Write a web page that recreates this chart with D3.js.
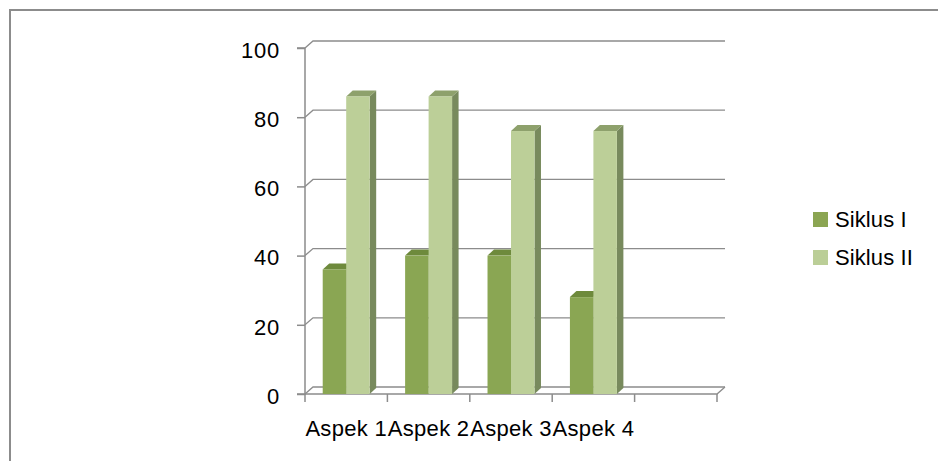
<!DOCTYPE html>
<html>
<head>
<meta charset="utf-8">
<script src="https://cdn.jsdelivr.net/npm/d3@7"></script>
<style>
  html, body { margin: 0; padding: 0; background: #fff; }
  svg { display: block; }
  text { font-family: "Liberation Sans", Arial, sans-serif; fill: #000; }
</style>
</head>
<body>
<svg id="chart" width="938" height="461"></svg>
<script>
// Chart data
const categories = ["Aspek 1", "Aspek 2", "Aspek 3", "Aspek 4"];
const seriesNames = ["Siklus I", "Siklus II"];
const siklus1 = [36, 40, 40, 28];
const siklus2 = [86, 86, 76, 76];
const yTicks = [0, 20, 40, 60, 80, 100];

const seriesValues = [siklus1, siklus2];
const faceColors = [
  { front: "#8aa653", top: "#6e8a3c", side: "#6a8038" },
  { front: "#bccf98", top: "#8ea16c", side: "#788a5d" }
];
const legendColors = ["#8ba552", "#bbce97"];

const svg = d3.select("#chart");

// Outer frame (extends past the page edge on the right and bottom)
svg.append("rect")
  .attr("x", 10).attr("y", 10)
  .attr("width", 1000).attr("height", 600)
  .attr("fill", "none")
  .attr("stroke", "#8c8c8c")
  .attr("stroke-width", 2);

// Plot geometry
const plotLeft = 305, plotRight = 717, plotBottom = 394, plotTop = 48;
const depthX = 8, depthY = 7;       // wall / floor depth
const barDX = 6.5, barDY = 6;       // bar depth

// One extra empty slot after the last category
const slots = [...categories, "\u0000empty"];
const x = d3.scaleBand().domain(slots).range([plotLeft, plotRight]).paddingInner(0).paddingOuter(0);
const y = d3.scaleLinear().domain([0, 100]).range([plotBottom, plotTop]);
const groupInner = 0.57; // fraction of a slot used by the bar pair
const barW = x.bandwidth() * groupInner / seriesNames.length;

const gridColor = "#8c8c8c";

// Back-wall gridlines with slanted left ends
const grid = svg.append("g");
yTicks.forEach(t => {
  const yy = y(t);
  grid.append("path")
    .attr("d", `M${plotLeft},${yy} L${plotLeft + depthX},${yy - depthY} L${plotRight + depthX},${yy - depthY}`)
    .attr("fill", "none")
    .attr("stroke", gridColor)
    .attr("stroke-width", 1.3);
});

// Floor front edge and right slant
svg.append("path")
  .attr("d", `M${plotLeft},${plotBottom} L${plotRight},${plotBottom} L${plotRight + depthX},${plotBottom - depthY}`)
  .attr("fill", "none").attr("stroke", gridColor).attr("stroke-width", 1.3);

// Value axis
const yAxis = d3.axisLeft(y).tickValues(yTicks).tickSize(8).tickPadding(17);
const yg = svg.append("g").attr("transform", `translate(${plotLeft},0)`).call(yAxis);
yg.select(".domain").attr("stroke", gridColor).attr("stroke-width", 1.5)
  .attr("d", `M-8,${plotTop}H0V${plotBottom}H-8`);
yg.selectAll(".tick line").attr("stroke", gridColor).attr("stroke-width", 1.5);
yg.selectAll(".tick text")
  .style("font-family", "'Liberation Sans', Arial, sans-serif")
  .attr("font-size", 22).attr("letter-spacing", 0.8).attr("fill", "#000")
  .attr("dy", "0.42em");

// Category axis tick marks at slot boundaries
const bounds = slots.map(s => x(s)).concat([plotRight]);
svg.append("g").selectAll("line").data(bounds).join("line")
  .attr("x1", d => d).attr("x2", d => d)
  .attr("y1", plotBottom).attr("y2", plotBottom + 8)
  .attr("stroke", gridColor).attr("stroke-width", 1.5);

// Category labels
svg.append("g").selectAll("text").data(categories).join("text")
  .attr("x", d => x(d) + x.bandwidth() / 2)
  .attr("y", 436)
  .attr("text-anchor", "middle")
  .attr("font-size", 22)
  .attr("letter-spacing", 0.3)
  .text(d => d);

// 3D columns, drawn left to right so each nearer front face hides the previous side face
const bars = svg.append("g");
categories.forEach((cat, ci) => {
  const groupStart = x(cat) + (x.bandwidth() - barW * seriesNames.length) / 2;
  seriesNames.forEach((name, si) => {
    const v = seriesValues[si][ci];
    const x0 = groupStart + si * barW, x1 = x0 + barW;
    const y0 = y(v), y1 = y(0);
    const c = faceColors[si];
    const g = bars.append("g");
    g.append("path") // side
      .attr("d", `M${x1},${y0} L${x1 + barDX},${y0 - barDY} L${x1 + barDX},${y1 - barDY} L${x1},${y1} Z`)
      .attr("fill", c.side);
    g.append("path") // top
      .attr("d", `M${x0},${y0} L${x0 + barDX},${y0 - barDY} L${x1 + barDX},${y0 - barDY} L${x1},${y0} Z`)
      .attr("fill", c.top);
    g.append("rect") // front
      .attr("x", x0).attr("y", y0)
      .attr("width", barW).attr("height", y1 - y0)
      .attr("fill", c.front);
  });
});

// Legend
const legend = svg.append("g");
seriesNames.forEach((name, i) => {
  const ly = 212 + i * 38;
  legend.append("rect")
    .attr("x", 813).attr("y", ly)
    .attr("width", 15).attr("height", 15)
    .attr("fill", legendColors[i]);
  legend.append("text")
    .attr("x", 835).attr("y", ly + 15)
    .attr("font-size", 22)
    .attr("letter-spacing", 0.1)
    .text(name);
});
</script>
</body>
</html>
